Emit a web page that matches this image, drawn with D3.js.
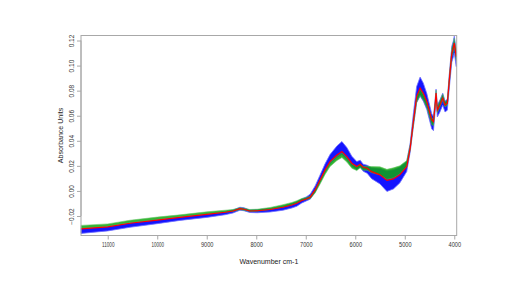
<!DOCTYPE html>
<html><head><meta charset="utf-8">
<script src="https://cdn.jsdelivr.net/npm/d3@7"></script>
<style>html,body{margin:0;padding:0;background:#fff;}svg{display:block;}</style>
</head><body>
<svg id="chart" width="516" height="290"></svg>
<script>
const wavenumbers = [11540,11000,10550,10000,9540,9000,8630,8470,8330,8250,8130,7980,7720,7460,7280,7180,7080,6990,6910,6810,6710,6610,6510,6370,6270,6170,6070,5970,5900,5840,5760,5670,5500,5360,5230,5100,4960,4890,4830,4760,4690,4625,4555,4455,4420,4390,4368,4342,4290,4233,4187,4140,4100,4050,4020,4000,3960];
const redSeries = [-0.0303,-0.0287,-0.0258,-0.0233,-0.0211,-0.0187,-0.0170,-0.0160,-0.0142,-0.0146,-0.0160,-0.0158,-0.0148,-0.0130,-0.0112,-0.0098,-0.0076,-0.0064,-0.0050,0.0008,0.0088,0.0168,0.0234,0.0287,0.0314,0.0274,0.0221,0.0194,0.0213,0.0189,0.0181,0.0154,0.0128,0.0084,0.0096,0.0128,0.0194,0.0343,0.0540,0.0753,0.0820,0.0780,0.0713,0.0567,0.0553,0.0673,0.0780,0.0646,0.0686,0.0740,0.0686,0.0700,0.0886,0.1099,0.1139,0.1179,0.1072];
const blueHigh = [-0.0299,-0.0283,-0.0254,-0.0229,-0.0207,-0.0183,-0.0166,-0.0152,-0.0130,-0.0134,-0.0152,-0.0150,-0.0140,-0.0122,-0.0100,-0.0086,-0.0064,-0.0048,-0.0026,0.0040,0.0128,0.0216,0.0290,0.0359,0.0394,0.0346,0.0277,0.0234,0.0245,0.0213,0.0205,0.0185,0.0180,0.0160,0.0170,0.0190,0.0235,0.0383,0.0604,0.0833,0.0908,0.0860,0.0777,0.0615,0.0593,0.0713,0.0812,0.0686,0.0726,0.0780,0.0718,0.0732,0.0934,0.1155,0.1195,0.1235,0.1120];
const blueLow = [-0.0339,-0.0319,-0.0290,-0.0261,-0.0235,-0.0211,-0.0190,-0.0176,-0.0154,-0.0158,-0.0172,-0.0174,-0.0168,-0.0154,-0.0136,-0.0122,-0.0096,-0.0080,-0.0066,-0.0008,0.0072,0.0152,0.0214,0.0267,0.0290,0.0250,0.0197,0.0170,0.0189,0.0157,0.0141,0.0098,0.0056,-0.0004,0.0016,0.0064,0.0154,0.0311,0.0500,0.0705,0.0756,0.0716,0.0649,0.0495,0.0481,0.0617,0.0732,0.0590,0.0630,0.0684,0.0630,0.0644,0.0822,0.1027,0.1067,0.1099,0.0992];
const greenHigh = [-0.0275,-0.0263,-0.0234,-0.0209,-0.0191,-0.0167,-0.0154,-0.0148,-0.0134,-0.0138,-0.0148,-0.0146,-0.0132,-0.0110,-0.0092,-0.0078,-0.0060,-0.0052,-0.0042,0.0012,0.0088,0.0164,0.0226,0.0275,0.0302,0.0262,0.0213,0.0194,0.0213,0.0197,0.0197,0.0194,0.0192,0.0172,0.0184,0.0200,0.0242,0.0367,0.0556,0.0753,0.0812,0.0772,0.0713,0.0583,0.0569,0.0697,0.0804,0.0670,0.0718,0.0772,0.0710,0.0724,0.0918,0.1139,0.1179,0.1219,0.1112];
const greenLow = [-0.0299,-0.0283,-0.0254,-0.0229,-0.0207,-0.0185,-0.0170,-0.0164,-0.0150,-0.0154,-0.0164,-0.0162,-0.0148,-0.0130,-0.0112,-0.0098,-0.0076,-0.0068,-0.0062,-0.0016,0.0056,0.0132,0.0194,0.0243,0.0266,0.0230,0.0181,0.0162,0.0185,0.0165,0.0165,0.0146,0.0128,0.0092,0.0104,0.0136,0.0194,0.0327,0.0508,0.0705,0.0764,0.0724,0.0665,0.0527,0.0521,0.0649,0.0756,0.0622,0.0670,0.0724,0.0670,0.0684,0.0862,0.1067,0.1107,0.1147,0.1040];
const xTicks = [11000,10000,9000,8000,7000,6000,5000,4000];
const yTicks = [-0.02,0.00,0.02,0.04,0.06,0.08,0.10,0.12];
const xTitle = "Wavenumber cm-1";
const yTitle = "Absorbance Units";

const svg = d3.select("#chart");
const L = 81, R = 456.7, T = 35.5, B = 235.5;
const x = d3.scaleLinear().domain([11540, 3951]).range([L, R]);
const y = d3.scaleLinear().domain([-0.03556, 0.124]).range([B, T]);

const pts = wavenumbers.map((w,i)=>i);
const band = (hi, lo) => d3.area().x(i=>x(wavenumbers[i])).y0(i=>y(lo[i])).y1(i=>y(hi[i]));
const line = s => d3.line().x(i=>x(wavenumbers[i])).y(i=>y(s[i]));

const g = svg.append("g");
g.append("path").attr("d", band(blueHigh, blueLow)(pts))
  .attr("fill","#1414ff").attr("stroke","#7070ff").attr("stroke-width",0.8);
g.append("path").attr("d", band(greenHigh, greenLow)(pts))
  .attr("fill","#10a810").attr("stroke","#50c050").attr("stroke-width",0.6).attr("opacity",0.85);
g.append("path").attr("d", line(redSeries)(pts))
  .attr("fill","none").attr("stroke","#ff0000").attr("stroke-width",1.2);

// box
svg.append("rect").attr("x",L).attr("y",T).attr("width",R-L).attr("height",B-T)
  .attr("fill","none").attr("stroke","#a8a8a8").attr("stroke-width",1);

// x axis
const xAxis = d3.axisBottom(x).tickValues(xTicks).tickSize(4).tickPadding(3).tickFormat(d3.format("d"));
const xa = svg.append("g").attr("transform",`translate(0,${B})`).call(xAxis);
xa.select(".domain").attr("stroke","#a8a8a8").attr("d",`M${x(11000)},0H${x(4000)}`);
xa.selectAll(".tick line").attr("stroke","#a8a8a8");
xa.selectAll(".tick text").attr("font-family","Liberation Sans, Arial, sans-serif").attr("font-size",6.5)
  .attr("fill","#333").attr("textLength",12.5).attr("lengthAdjust","spacingAndGlyphs");

// y axis
const yAxis = d3.axisLeft(y).tickValues(yTicks).tickSize(4).tickFormat(d3.format(".2f"));
const ya = svg.append("g").attr("transform",`translate(${L},0)`).call(yAxis);
ya.select(".domain").attr("stroke","#a8a8a8").attr("d",`M0,${y(-0.02)}V${y(0.12)}`);
ya.selectAll(".tick line").attr("stroke","#a8a8a8");
ya.selectAll(".tick text").attr("font-family","Liberation Sans, Arial, sans-serif").attr("font-size",6.5)
  .attr("fill","#333").attr("x",null).attr("dy",null).attr("text-anchor","middle")
  .attr("dominant-baseline","central").attr("transform","translate(-10,0) rotate(-90)");

svg.append("text").attr("x",(L+R)/2).attr("y",261).attr("text-anchor","middle")
  .attr("dominant-baseline","central")
  .attr("font-family","Liberation Sans, Arial, sans-serif").attr("font-size",7).attr("fill","#222").text(xTitle);
svg.append("text").attr("transform",`translate(60,${(T+B)/2}) rotate(-90)`).attr("text-anchor","middle")
  .attr("dominant-baseline","central")
  .attr("font-family","Liberation Sans, Arial, sans-serif").attr("font-size",7).attr("fill","#222").text(yTitle);
</script>
</body></html>
